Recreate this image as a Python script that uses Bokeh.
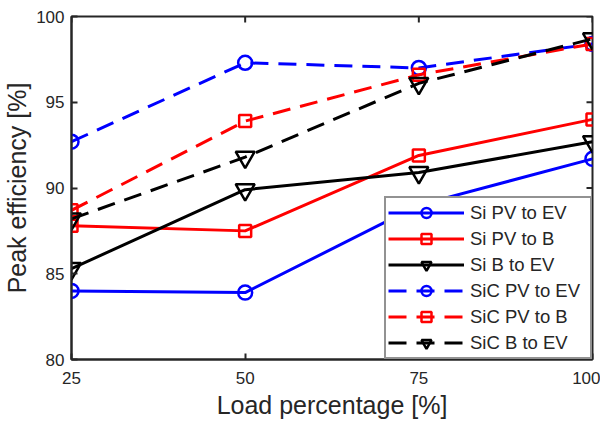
import math
from bokeh.plotting import figure
from bokeh.models import Range1d, FixedTicker, Legend, LegendItem
from bokeh.embed import file_html
from bokeh.resources import INLINE

load = [25, 50, 75, 100]
si_pv_ev = [84.0, 83.9, 89.0, 91.7]
si_pv_b = [87.8, 87.5, 91.9, 94.0]
si_b_ev = [85.3, 89.9, 90.9, 92.7]
sic_pv_ev = [92.7, 97.3, 97.0, 98.4]
sic_pv_b = [88.7, 93.9, 96.6, 98.4]
sic_b_ev = [88.2, 91.8, 96.1, 98.7]
x_ticks = [25, 50, 75, 100]
y_ticks = [80, 85, 90, 95, 100]
x_min, x_max = 25, 100
y_min, y_max = 80, 100

series = [
    ("Si PV to EV", si_pv_ev, "#0000ff", "solid", "circle"),
    ("Si PV to B", si_pv_b, "#ff0000", "solid", "square"),
    ("Si B to EV", si_b_ev, "#000000", "solid", "inverted_triangle"),
    ("SiC PV to EV", sic_pv_ev, "#0000ff", "18 10", "circle"),
    ("SiC PV to B", sic_pv_b, "#ff0000", "18 10", "square"),
    ("SiC B to EV", sic_b_ev, "#000000", "18 10", "inverted_triangle"),
]
marker_size = {"circle": 14, "square": 12, "inverted_triangle": 19}

p = figure(width=600, height=422, output_backend="svg", toolbar_location=None,
           x_range=Range1d(x_min, x_max), y_range=Range1d(y_min, y_max),
           min_border_left=70, min_border_right=8, min_border_top=16, min_border_bottom=63)
p.xgrid.visible = False
p.ygrid.visible = False
p.outline_line_color = "#262626"
p.outline_line_width = 2
p.background_fill_color = "white"
p.border_fill_color = "white"

font = "Liberation Sans"
for ax in (p.xaxis[0], p.yaxis[0]):
    ax.axis_line_color = "#262626"
    ax.axis_line_width = 2
    ax.major_tick_in = 6
    ax.major_tick_out = 0
    ax.major_tick_line_width = 2
    ax.major_tick_line_color = "#262626"
    ax.minor_tick_line_color = None
    ax.major_label_text_font = font
    ax.major_label_text_font_size = "17px"
    ax.major_label_text_color = "#262626"
    ax.axis_label_text_font = font
    ax.axis_label_text_font_size = "25px"
    ax.axis_label_text_font_style = "normal"
    ax.axis_label_text_color = "#262626"
p.xaxis[0].ticker = FixedTicker(ticks=x_ticks)
p.yaxis[0].ticker = FixedTicker(ticks=y_ticks)
p.xaxis[0].axis_label = "Load percentage [%]"
p.yaxis[0].axis_label = "Peak efficiency [%]"
p.xaxis[0].major_label_standoff = 12
p.yaxis[0].major_label_standoff = 7
p.xaxis[0].axis_label_standoff = 4
p.yaxis[0].axis_label_standoff = 2

# inward tick marks on the top and right edges of the box (clipped to the frame)
p.scatter(x_ticks, [y_max] * len(x_ticks), marker="dash", angle=math.pi / 2, size=12,
          line_color="#262626", line_width=2)
p.scatter([x_max] * len(y_ticks), y_ticks, marker="dash", size=12,
          line_color="#262626", line_width=2)

items = []
for name, vals, color, dash, marker in series:
    ln = p.line(load, vals, line_color=color, line_width=3, line_dash=dash)
    sc = p.scatter(load, vals, marker=marker, size=marker_size[marker], line_color=color,
                   fill_color=None, line_width=2.5)
    items.append(LegendItem(label=name, renderers=[ln, sc]))

legend = Legend(items=items, location="bottom_right", border_line_color="#262626",
                border_line_width=2, label_text_font=font, label_text_font_size="18.5px",
                label_text_color="#262626", glyph_width=76, glyph_height=25,
                spacing=1, padding=2, margin=0, label_standoff=6, label_width=118,
                background_fill_alpha=1.0)
p.add_layout(legend, "center")

open("out.html", "w").write(file_html(p, INLINE))
